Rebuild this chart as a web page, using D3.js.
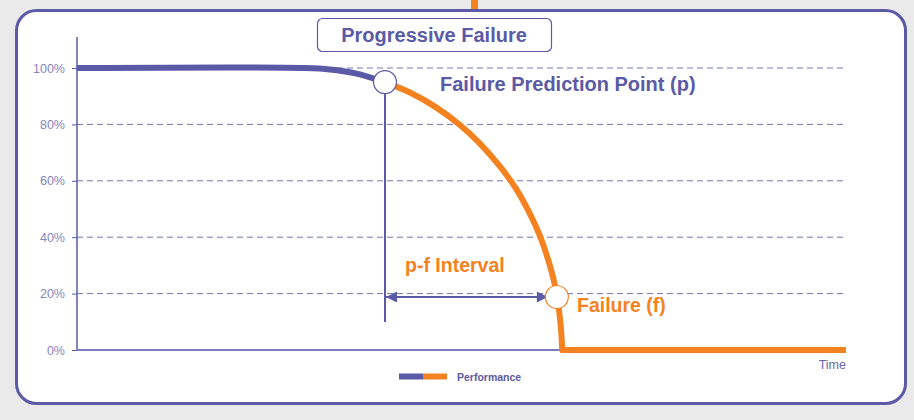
<!DOCTYPE html>
<html>
<head>
<meta charset="utf-8">
<script src="https://cdn.jsdelivr.net/npm/d3@7"></script>
<style>
  html, body { margin: 0; padding: 0; background: #eaeaeb; }
  svg { display: block; }
  text { font-family: "Liberation Sans", Arial, Helvetica, sans-serif; }
</style>
</head>
<body>
<svg id="chart" width="914" height="420"></svg>
<script>
// ---- data ----
const time = [0, 29.65, 32.9, 36.2, 40.05, 43.3, 46.55, 49.8, 52.4, 55.0, 57.0, 58.9, 60.2, 61.2, 62.0, 62.5, 62.9, 63.1, 100];
const performance = [100, 100, 99.5, 98.1, 95.0, 91.3, 86.3, 79.8, 73.2, 65.1, 57.6, 48.3, 40.5, 32.6, 24.8, 17.6, 8.8, 0, 0];
const yTicks = [0, 20, 40, 60, 80, 100];
const yTickLabels = ["0%", "20%", "40%", "60%", "80%", "100%"];
const predictionPoint = { time: 40.05, value: 95.0 };
const failurePoint = { time: 62.4, value: 18.8 };
const pIndex = 4;       // index of prediction point in the series
const cornerIndex = 17; // index where performance hits zero

const title = "Progressive Failure";
const labelP = "Failure Prediction Point (p)";
const labelF = "Failure (f)";
const labelInterval = "p-f Interval";
const legendLabel = "Performance";
const xLabel = "Time";

const purple = "#5a5aa6";
const orange = "#f58220";
const gridColor = "#7474b4";
const tickColor = "#8484c0";

const svg = d3.select("#chart");

// background / panel
svg.append("rect").attr("x", 0).attr("y", 0).attr("width", 914).attr("height", 420).attr("fill", "#eaeaeb");
svg.append("rect").attr("x", 471).attr("y", 0).attr("width", 7).attr("height", 11).attr("fill", orange);
svg.append("rect")
  .attr("x", 16.5).attr("y", 10.5).attr("width", 889).attr("height", 393)
  .attr("rx", 20).attr("ry", 20)
  .attr("fill", "#ffffff").attr("stroke", purple).attr("stroke-width", 3);

// title box
svg.append("rect")
  .attr("x", 317.5).attr("y", 18.5).attr("width", 234).attr("height", 33)
  .attr("rx", 5).attr("ry", 5)
  .attr("fill", "#ffffff").attr("stroke", purple).attr("stroke-width", 1.2);
svg.append("text").attr("x", 434).attr("y", 42)
  .attr("text-anchor", "middle").attr("font-size", 20).attr("font-weight", "bold")
  .attr("fill", purple).text(title);

// scales
const x = d3.scaleLinear().domain([0, 100]).range([77, 846]);
const y = d3.scaleLinear().domain([0, 100]).range([350, 68]);

// gridlines
svg.append("g").selectAll("line")
  .data(yTicks.filter(d => d > 0))
  .join("line")
  .attr("x1", x(0)).attr("x2", x(100))
  .attr("y1", d => y(d)).attr("y2", d => y(d))
  .attr("stroke", gridColor).attr("stroke-width", 1)
  .attr("stroke-dasharray", "6,4");

// y axis
const yAxis = d3.axisLeft(y).tickValues(yTicks)
  .tickFormat((d, i) => yTickLabels[i]).tickSize(5).tickPadding(7);
const gy = svg.append("g").attr("transform", `translate(${x(0)},0)`).call(yAxis);
gy.select(".domain").remove();
gy.selectAll(".tick line").attr("stroke", purple).attr("stroke-width", 1);
gy.selectAll(".tick text").attr("fill", tickColor).attr("font-size", 12.5)
  .attr("font-family", "'Liberation Sans', Arial, sans-serif");
svg.append("line").attr("x1", x(0)).attr("x2", x(0)).attr("y1", 37).attr("y2", y(0))
  .attr("stroke", purple).attr("stroke-width", 1.5);
// x axis
svg.append("line").attr("x1", x(0)).attr("x2", x(100)).attr("y1", y(0)).attr("y2", y(0))
  .attr("stroke", "#7c7cba").attr("stroke-width", 1.8);
svg.append("text").attr("x", x(100)).attr("y", 369).attr("text-anchor", "end")
  .attr("font-size", 12.5).attr("fill", "#6666aa").text(xLabel);

// series
const pts = time.map((t, i) => ({ t, v: performance[i] }));
const curveLine = d3.line().x(d => x(d.t)).y(d => y(d.v)).curve(d3.curveCatmullRom.alpha(0.5));
const straight = d3.line().x(d => x(d.t)).y(d => y(d.v));

svg.append("path").datum(pts.slice(cornerIndex))
  .attr("d", straight).attr("fill", "none").attr("stroke", orange).attr("stroke-width", 6);
svg.append("path").datum(pts.slice(pIndex, cornerIndex + 1))
  .attr("d", curveLine).attr("fill", "none").attr("stroke", orange).attr("stroke-width", 6)
  .attr("stroke-linejoin", "round").attr("stroke-linecap", "round");
svg.append("path").datum(pts.slice(0, pIndex + 1))
  .attr("d", curveLine).attr("fill", "none").attr("stroke", purple).attr("stroke-width", 6);

// vertical from p
const px = x(predictionPoint.time), py = y(predictionPoint.value);
const fx = x(failurePoint.time), fy = y(failurePoint.value);
svg.append("line").attr("x1", px).attr("x2", px).attr("y1", py).attr("y2", 322)
  .attr("stroke", purple).attr("stroke-width", 2);

// double arrow
const defs = svg.append("defs");
["start", "end"].forEach(k => {
  defs.append("marker").attr("id", "arr-" + k)
    .attr("viewBox", "0 0 10 10").attr("refX", 10).attr("refY", 5)
    .attr("markerWidth", 7.5).attr("markerHeight", 5.5).attr("markerUnits", "strokeWidth")
    .attr("orient", k === "start" ? "auto-start-reverse" : "auto")
    .append("path").attr("d", "M0,0 L10,5 L0,10 Z").attr("fill", purple);
});
svg.append("line").attr("x1", px + 1).attr("x2", fx - 9).attr("y1", fy).attr("y2", fy)
  .attr("stroke", purple).attr("stroke-width", 2)
  .attr("marker-start", "url(#arr-start)").attr("marker-end", "url(#arr-end)");

// circles
svg.append("circle").attr("cx", px).attr("cy", py).attr("r", 11.5)
  .attr("fill", "#fff").attr("stroke", purple).attr("stroke-width", 1.2);
svg.append("circle").attr("cx", fx).attr("cy", fy).attr("r", 11.5)
  .attr("fill", "#fff").attr("stroke", orange).attr("stroke-width", 1.2);

// labels
svg.append("text").attr("x", 440).attr("y", 91).attr("font-size", 20).attr("font-weight", "bold")
  .attr("fill", purple).text(labelP);
svg.append("text").attr("x", 405).attr("y", 272).attr("font-size", 19.5).attr("font-weight", "bold")
  .attr("fill", orange).text(labelInterval);
svg.append("text").attr("x", 577).attr("y", 312).attr("font-size", 19.5).attr("font-weight", "bold")
  .attr("fill", orange).text(labelF);

// legend
svg.append("rect").attr("x", 399).attr("y", 373.5).attr("width", 24).attr("height", 6).attr("fill", purple);
svg.append("rect").attr("x", 423).attr("y", 373.5).attr("width", 24).attr("height", 6).attr("fill", orange);
svg.append("text").attr("x", 457).attr("y", 381).attr("font-size", 10.5).attr("font-weight", "bold")
  .attr("fill", purple).text(legendLabel);
</script>
</body>
</html>
